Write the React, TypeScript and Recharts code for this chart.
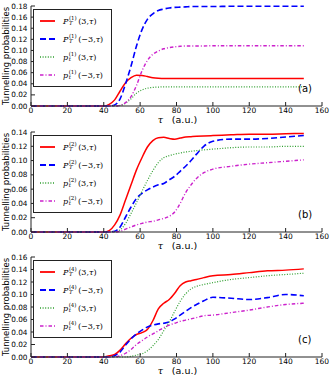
import { LineChart, Line, XAxis, YAxis, Legend } from "recharts";

// shared time grid (a.u.)
const TAU = [0, 40, 43, 46, 49, 52, 55, 58, 61, 64, 67, 70, 73, 76, 79, 82, 85, 88, 91, 95, 100, 110, 120, 130, 140, 150];
const X_TICKS = [0, 20, 40, 60, 80, 100, 120, 140, 160];

// panel (a), n = 1
const PT_POS_1 = [0, 0, 0.003, 0.011, 0.027, 0.042, 0.051, 0.0555, 0.055, 0.053, 0.051, 0.05, 0.0495, 0.0495, 0.0495, 0.0495, 0.0495, 0.0495, 0.0495, 0.0495, 0.0495, 0.0495, 0.0495, 0.0495, 0.0495, 0.0495];
const PT_NEG_1 = [0, 0, 0, 0.002, 0.013, 0.04, 0.072, 0.108, 0.137, 0.156, 0.166, 0.172, 0.1745, 0.1765, 0.1775, 0.178, 0.1785, 0.179, 0.179, 0.179, 0.179, 0.1795, 0.1795, 0.1795, 0.1795, 0.1795];
const PL_POS_1 = [0, 0, 0, 0, 0.001, 0.005, 0.013, 0.023, 0.029, 0.032, 0.0335, 0.034, 0.0345, 0.0345, 0.0345, 0.0345, 0.0345, 0.0345, 0.0345, 0.0345, 0.0345, 0.0345, 0.0345, 0.0345, 0.0345, 0.0345];
const PL_NEG_1 = [0, 0, 0, 0, 0.001, 0.006, 0.017, 0.037, 0.063, 0.082, 0.093, 0.099, 0.103, 0.105, 0.1065, 0.1075, 0.108, 0.108, 0.108, 0.108, 0.1085, 0.1085, 0.1085, 0.1085, 0.1085, 0.1085];

// panel (b), n = 2
const PT_POS_2 = [0, 0, 0.002, 0.01, 0.024, 0.045, 0.066, 0.087, 0.104, 0.119, 0.128, 0.132, 0.1325, 0.131, 0.13, 0.1315, 0.133, 0.1335, 0.134, 0.1345, 0.135, 0.136, 0.137, 0.137, 0.1375, 0.138];
const PT_NEG_2 = [0, 0, 0, 0.001, 0.007, 0.021, 0.035, 0.047, 0.054, 0.059, 0.063, 0.066, 0.068, 0.073, 0.078, 0.085, 0.092, 0.1, 0.109, 0.12, 0.127, 0.13, 0.13, 0.131, 0.133, 0.135];
const PL_POS_2 = [0, 0, 0, 0, 0.003, 0.012, 0.026, 0.041, 0.057, 0.072, 0.086, 0.097, 0.104, 0.107, 0.109, 0.1105, 0.112, 0.113, 0.114, 0.115, 0.116, 0.118, 0.119, 0.119, 0.12, 0.12];
const PL_NEG_2 = [0, 0, 0, 0, 0.001, 0.004, 0.007, 0.01, 0.012, 0.014, 0.015, 0.017, 0.019, 0.022, 0.028, 0.04, 0.055, 0.066, 0.075, 0.083, 0.088, 0.092, 0.095, 0.097, 0.099, 0.101];

// panel (c), n = 4
const PT_POS_4 = [0, 0, 0.002, 0.004, 0.011, 0.021, 0.03, 0.036, 0.039, 0.044, 0.058, 0.077, 0.086, 0.092, 0.102, 0.114, 0.12, 0.122, 0.124, 0.127, 0.13, 0.132, 0.135, 0.138, 0.139, 0.141];
const PT_NEG_4 = [0, 0, 0, 0.002, 0.008, 0.019, 0.029, 0.037, 0.043, 0.048, 0.051, 0.053, 0.054, 0.056, 0.061, 0.067, 0.073, 0.079, 0.084, 0.09, 0.0955, 0.094, 0.092, 0.095, 0.1, 0.098];
const PL_POS_4 = [0, 0, 0, 0, 0, 0, 0.001, 0.003, 0.005, 0.01, 0.018, 0.028, 0.042, 0.056, 0.073, 0.089, 0.101, 0.109, 0.113, 0.116, 0.119, 0.124, 0.127, 0.13, 0.132, 0.134];
const PL_NEG_4 = [0, 0, 0, 0, 0.002, 0.006, 0.012, 0.02, 0.026, 0.032, 0.037, 0.042, 0.047, 0.051, 0.054, 0.057, 0.059, 0.061, 0.063, 0.066, 0.067, 0.071, 0.075, 0.08, 0.084, 0.086];

const Y_TICKS_A = [0, 0.02, 0.04, 0.06, 0.08, 0.1, 0.12, 0.14, 0.16, 0.18];
const Y_TICKS_B = [0, 0.02, 0.04, 0.06, 0.08, 0.1, 0.12, 0.14];
const Y_TICKS_C = [0, 0.02, 0.04, 0.06, 0.08, 0.1, 0.12, 0.14, 0.16];

const SERIES = [
  { key: "ptPos", big: "P", sub: "T", arg: "3", color: "#ff0000", dash: undefined, width: 1.5 },
  { key: "ptNeg", big: "P", sub: "T", arg: "\u22123", color: "#0000ff", dash: "6 3", width: 1.6 },
  { key: "plPos", big: "p", sub: "t", arg: "3", color: "#2e9e2e", dash: "1 1.6", width: 1.2 },
  { key: "plNeg", big: "p", sub: "t", arg: "\u22123", color: "#cc22cc", dash: "3.5 2 1 2", width: 1.4 },
];

const PANELS = [
  { tag: "(a)", n: 1, max: 0.18, yTicks: Y_TICKS_A, cols: [PT_POS_1, PT_NEG_1, PL_POS_1, PL_NEG_1] },
  { tag: "(b)", n: 2, max: 0.14, yTicks: Y_TICKS_B, cols: [PT_POS_2, PT_NEG_2, PL_POS_2, PL_NEG_2] },
  { tag: "(c)", n: 4, max: 0.16, yTicks: Y_TICKS_C, cols: [PT_POS_4, PT_NEG_4, PL_POS_4, PL_NEG_4] },
];

const FRAME = "#222";
const SANS = '"DejaVu Sans", sans-serif';
const SERIF = '"DejaVu Serif", serif';

function MathName({ big, sub, n, arg }: { big: string; sub: string; n: number; arg: string }) {
  return (
    <span style={{ fontFamily: SERIF, fontSize: 8, whiteSpace: "nowrap", color: "#000" }}>
      <i>{big}</i>
      <span
        style={{
          display: "inline-flex",
          flexDirection: "column",
          fontSize: 5.5,
          lineHeight: "5.5px",
          verticalAlign: "middle",
          marginLeft: 0.5,
          marginRight: 1.5,
        }}
      >
        <span>({n})</span>
        <i>{sub}</i>
      </span>
      <span>({arg},</span>
      <i>τ</i>
      <span>)</span>
    </span>
  );
}

function LegendBox({ n }: { n: number }) {
  return (
    <div
      style={{
        width: 79,
        height: 78,
        boxSizing: "border-box",
        border: `1px solid ${FRAME}`,
        background: "#fff",
        paddingTop: 2,
      }}
    >
      {SERIES.map((s) => (
        <div key={s.key} style={{ display: "flex", alignItems: "center", height: 18 }}>
          <svg width={15} height={4} style={{ marginLeft: 6, marginRight: 8, flex: "none" }}>
            <line x1={0} y1={2} x2={15} y2={2} stroke={s.color} strokeWidth={s.width + 0.3} strokeDasharray={s.dash} />
          </svg>
          <MathName big={s.big} sub={s.sub} n={n} arg={s.arg} />
        </div>
      ))}
    </div>
  );
}

function Panel({ panel }: { panel: (typeof PANELS)[number] }) {
  const rows = TAU.map((t, i) => {
    const r: Record<string, number> = { tau: t };
    SERIES.forEach((s, j) => (r[s.key] = panel.cols[j][i]));
    return r;
  });

  return (
    <div style={{ position: "relative", width: 332, height: 125 }}>
      <LineChart width={332} height={125} data={rows} margin={{ top: 6, right: 10, bottom: 0, left: 0 }}>
        <XAxis
          dataKey="tau"
          type="number"
          domain={[0, 160]}
          ticks={X_TICKS}
          interval={0}
          height={19}
          tickSize={-4}
          tickMargin={6}
          stroke={FRAME}
          tick={{ fontSize: 7.5, fill: "#000", fontFamily: SANS }}
          label={{
            position: "insideBottom",
            content: (p: any) => {
              const vb = p.viewBox || {};
              const cx = vb.x + vb.width / 2;
              const y = vb.y + vb.height - 2;
              return (
                <text y={y} textAnchor="middle" fontSize={9.5}>
                  <tspan x={cx - 16} fontFamily={SERIF} fontStyle="italic">τ</tspan>
                  <tspan x={cx + 8} fontFamily={SANS}>(a.u.)</tspan>
                </text>
              );
            },
          }}
        />
        <XAxis
          xAxisId="top"
          orientation="top"
          dataKey="tau"
          type="number"
          domain={[0, 160]}
          ticks={X_TICKS}
          interval={0}
          height={0}
          tickSize={-4}
          tick={false}
          stroke={FRAME}
        />
        <YAxis
          type="number"
          domain={[0, panel.max]}
          ticks={panel.yTicks}
          interval={0}
          width={31}
          tickSize={-4}
          tickMargin={7.5}
          stroke={FRAME}
          tickFormatter={(v: number) => v.toFixed(2)}
          tick={{ fontSize: 7.3, fill: "#000", fontFamily: SANS }}
          label={{
            position: "insideLeft",
            content: (p: any) => {
              const vb = p.viewBox || {};
              const cx = 6;
              const cy = vb.y + vb.height / 2;
              return (
                <text
                  x={cx}
                  y={cy}
                  textAnchor="middle"
                  dominantBaseline="central"
                  fontSize={8.5}
                  fontFamily={SANS}
                  transform={`rotate(-90 ${cx} ${cy})`}
                >
                  Tunnelling probabilities
                </text>
              );
            },
          }}
        />
        <YAxis
          yAxisId="right"
          orientation="right"
          type="number"
          domain={[0, panel.max]}
          ticks={panel.yTicks}
          interval={0}
          width={0}
          tickSize={-4}
          tick={false}
          stroke={FRAME}
        />
        <Legend
          layout="horizontal"
          verticalAlign="middle"
          align="center"
          wrapperStyle={{ left: 33, top: 9, width: 79, height: 78 }}
          content={() => <LegendBox n={panel.n} />}
        />
        {SERIES.map((s) => (
          <Line
            key={s.key}
            dataKey={s.key}
            type="monotone"
            stroke={s.color}
            strokeWidth={s.width}
            strokeDasharray={s.dash}
            dot={false}
            activeDot={false}
            isAnimationActive={false}
          />
        ))}
      </LineChart>
      <div
        style={{
          position: "absolute",
          left: 298,
          top: 83,
          fontFamily: SANS,
          fontSize: 10,
          lineHeight: "12px",
        }}
      >
        {panel.tag}
      </div>
    </div>
  );
}

export default function App() {
  return (
    <div style={{ width: 332, height: 383, background: "#fff", position: "relative" }}>
      <style>{"body{margin:0}"}</style>
      {PANELS.map((p, i) => (
        <div key={p.tag} style={{ position: "absolute", left: 0, top: [0, 126, 251][i] }}>
          <Panel panel={p} />
        </div>
      ))}
    </div>
  );
}
